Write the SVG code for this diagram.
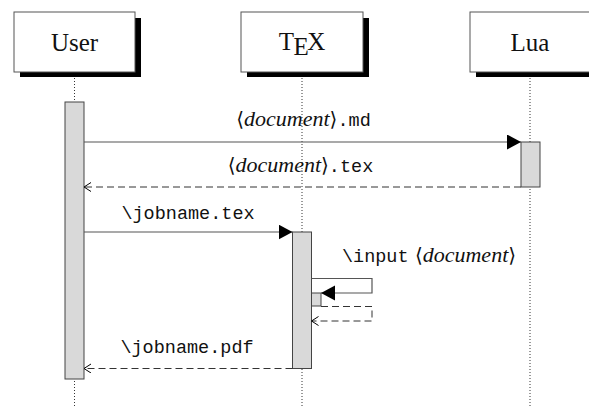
<svg xmlns="http://www.w3.org/2000/svg" width="589" height="408" viewBox="0 0 589 408">
<style>
.box{fill:#fff;stroke:#555;stroke-width:1}
.shadow{fill:#000}
.life{stroke:#000;stroke-width:0.8;stroke-dasharray:1 2;fill:none}
.act{fill:#d9d9d9;stroke:#444;stroke-width:1}
.msg{stroke:#555;stroke-width:1.2;fill:none}
.ret{stroke:#333;stroke-width:1;fill:none;stroke-dasharray:7 4}
.name{font-family:"Liberation Serif",serif;font-size:25px;fill:#111;text-anchor:middle}
.lbl{font-size:19px;fill:#111;text-anchor:middle}
.it{font-family:"Liberation Serif",serif;font-style:italic;font-size:22px}
.rm{font-family:"DejaVu Serif","Liberation Serif",serif;font-size:20px}
.tt{font-family:"Liberation Mono",monospace;font-size:18.5px}
</style>
<defs>
<marker id="fill" markerUnits="userSpaceOnUse" markerWidth="16" markerHeight="16" refX="14" refY="7.5" orient="auto">
<path d="M0,0 L14,7.5 L0,15 Z" fill="#000"/>
</marker>
<marker id="open" markerUnits="userSpaceOnUse" markerWidth="10" markerHeight="10" refX="7" refY="4.5" orient="auto">
<path d="M0,0 L7,4.5 L0,9" fill="none" stroke="#000" stroke-width="1"/>
</marker>
</defs>
<g id="lifelines">
<line class="life" x1="74.5" y1="78" x2="74.5" y2="408"/>
<line class="life" x1="302" y1="78" x2="302" y2="408"/>
<line class="life" x1="530" y1="78" x2="530" y2="408"/>
</g>
<g id="user">
<rect class="shadow" x="20" y="18" width="121" height="59"/>
<rect class="box" x="14" y="12" width="121" height="60"/>
<text class="name" x="74.5" y="51">User</text>
</g>
<g id="tex">
<rect class="shadow" x="247" y="18" width="122" height="59"/>
<rect class="box" x="241" y="12" width="122" height="60"/>
<text class="name" x="302" y="50">T<tspan dx="-0.5" dy="5">E</tspan><tspan dx="-1.5" dy="-5">X</tspan></text>
</g>
<g id="lua">
<rect class="shadow" x="476" y="18" width="121" height="59"/>
<rect class="box" x="470" y="12" width="121" height="60"/>
<text class="name" x="530" y="51">Lua</text>
</g>
<g id="activations">
<rect class="act" x="65" y="102" width="19" height="277"/>
<rect class="act" x="521" y="142" width="19" height="45"/>
<rect class="act" x="292.5" y="232" width="19" height="136.5"/>
<rect class="act" x="311.5" y="293" width="9.5" height="13"/>
</g>
<g id="connectors">
<line class="msg" x1="84" y1="142" x2="521" y2="142" marker-end="url(#fill)"/>
<line class="ret" x1="521" y1="187" x2="84" y2="187" marker-end="url(#open)"/>
<line class="msg" x1="84" y1="232" x2="292.5" y2="232" marker-end="url(#fill)"/>
<polyline class="msg" points="311.5,278.5 372,278.5 372,293 321,293" marker-end="url(#fill)"/>
<polyline class="ret" points="321,306.5 372,306.5 372,321 311.5,321" marker-end="url(#open)"/>
<line class="ret" x1="292.5" y1="368.5" x2="84" y2="368.5" marker-end="url(#open)"/>
</g>
<g id="labels">
<text class="lbl" x="303.5" y="126"><tspan class="rm">⟨</tspan><tspan class="it">document</tspan><tspan class="rm">⟩</tspan><tspan class="tt">.md</tspan></text>
<text class="lbl" x="300.5" y="172"><tspan class="rm">⟨</tspan><tspan class="it">document</tspan><tspan class="rm">⟩</tspan><tspan class="tt">.tex</tspan></text>
<text class="lbl tt" x="188" y="219">\jobname.tex</text>
<text class="lbl" x="429" y="262"><tspan class="tt">\input</tspan><tspan class="rm"> ⟨</tspan><tspan class="it">document</tspan><tspan class="rm">⟩</tspan></text>
<text class="lbl tt" x="187" y="353">\jobname.pdf</text>
</g>
</svg>
